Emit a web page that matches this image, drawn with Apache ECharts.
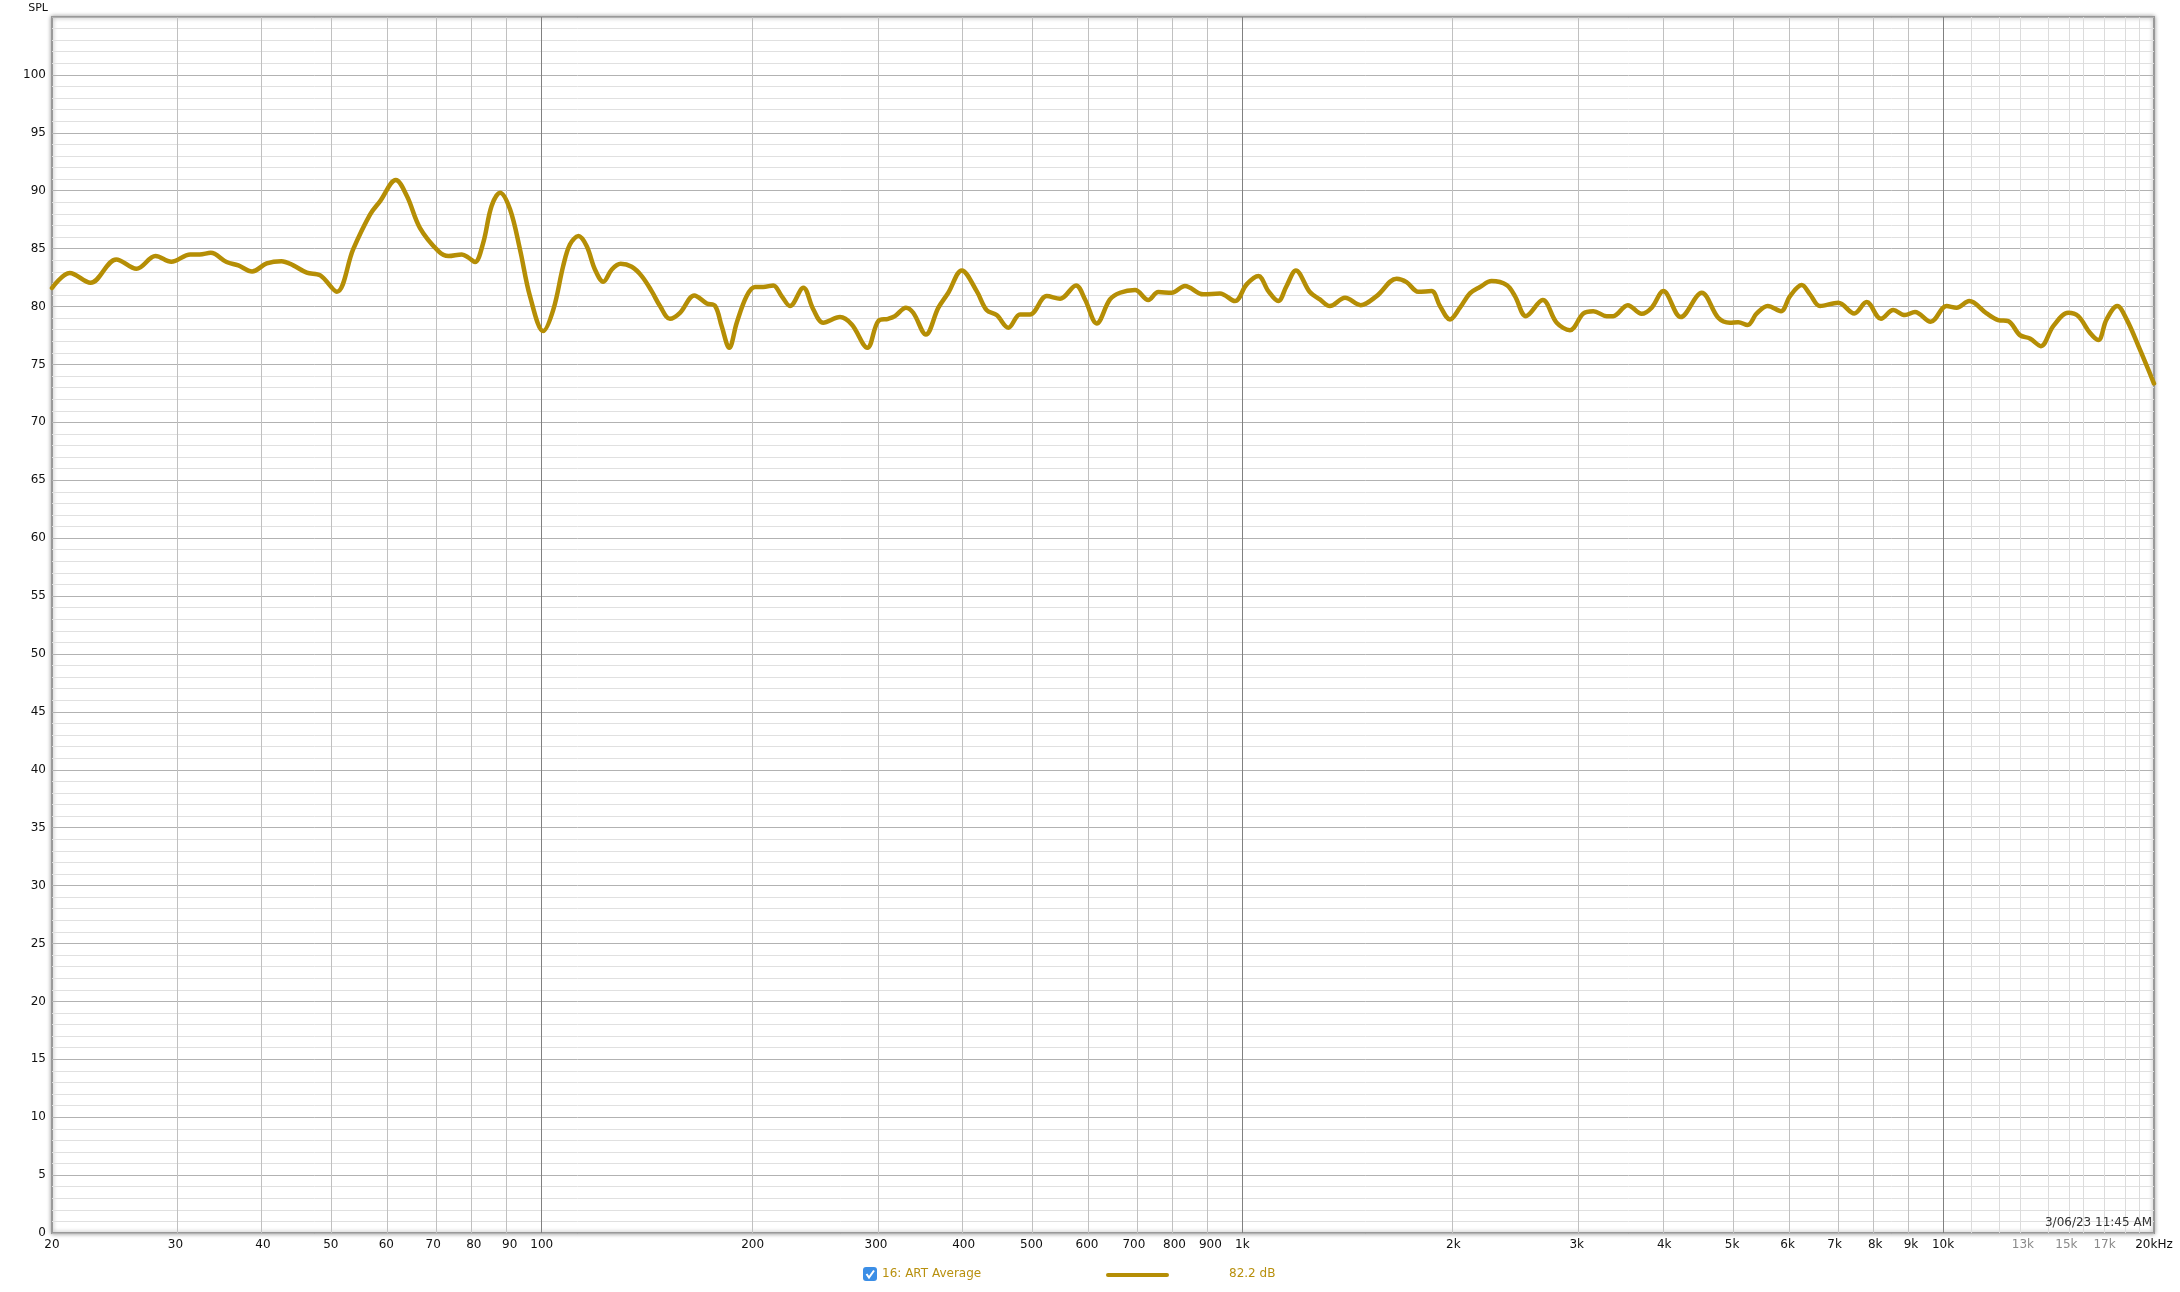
<!DOCTYPE html>
<html><head><meta charset="utf-8">
<script src="https://cdn.jsdelivr.net/npm/echarts@6/dist/echarts.min.js"></script>
<style>html,body{margin:0;padding:0;background:#fff}#c{width:2180px;height:1292px}</style>
</head><body><div id="c"></div>
<script>
// Frequency (Hz) of each sampled point of the response curve
const freqs = [20, 21.2, 22.7, 24.7, 26.4, 28.1, 29.6, 31.5, 32.5, 33.7, 35.5, 36.9, 38.6, 40.5, 42.5, 44.2, 46.2, 48.3, 51.0, 53.8,
  56.9, 58.8, 61.9, 64.2, 67.0, 71.2, 73.6, 76.9, 78.7, 80.3, 82.5, 84.8, 87.2, 90.1, 93.1, 96.2, 100.5, 103.9, 107.3, 109.7,
  112.8, 115.9, 119.1, 122.4, 125.9, 129.6, 134.4, 138.9, 143.5, 147.5, 152.4, 157.5, 165.1, 172.0, 176.8, 180.6, 185.2, 189.8, 196.1, 201.5,
  207.0, 214.0, 220.0, 226.1, 236.2, 244.1, 252.2, 266.5, 277.0, 291.6, 302.2, 312.2, 319.2, 331.0, 339.0, 353.4, 368.2, 380.4, 397.6, 417.6,
  431.5, 445.9, 463.4, 481.5, 497.6, 525.7, 549.2, 578.8, 596.2, 619.5, 647.1, 668.8, 702.6, 734.0, 758.6, 792.6, 828.0, 879.2, 928.8, 975.8,
  1014, 1054, 1089, 1125, 1156, 1192, 1248, 1290, 1333, 1401, 1475, 1554, 1660, 1715, 1782, 1862, 1914, 1978, 2044, 2112,
  2183, 2268, 2384, 2449, 2539, 2683, 2809, 2934, 3066, 3168, 3310, 3382, 3548, 3714, 3838, 3988, 4222, 4524, 4776, 4962,
  5100, 5260, 5420, 5620, 5870, 6048, 6284, 6458, 6674, 7086, 7468, 7778, 8154, 8490, 8822, 9118, 9600, 10116, 10454, 10900,
  11538, 11986, 12388, 12872, 13302, 13792, 14362, 15088, 15592, 16202, 16652, 17114, 17724, 18280, 19092, 20000];
// SPL (dB) at each frequency above
const spl = [81.6, 82.9, 82.05, 84.07, 83.26, 84.36, 83.87, 84.5, 84.5, 84.64, 83.84, 83.55, 83.03, 83.72, 83.92, 83.55, 82.92, 82.69, 81.28, 84.93,
  87.96, 89.1, 90.92, 89.54, 86.8, 84.79, 84.36, 84.5, 84.2, 83.84, 85.5, 88.68, 89.83, 88.39, 84.93, 80.9, 77.88, 79.75, 83.5, 85.36,
  86.08, 85.22, 83.2, 82.14, 83.2, 83.69, 83.43, 82.63, 81.33, 80.04, 78.94, 79.46, 80.96, 80.27, 80.04, 78.31, 76.44, 78.6, 80.9, 81.68,
  81.68, 81.82, 80.9, 80.04, 81.62, 79.75, 78.6, 79.09, 78.45, 76.44, 78.74, 78.94, 79.17, 79.9, 79.46, 77.59, 79.9, 81.19, 83.12, 81.33,
  79.69, 79.26, 78.17, 79.32, 79.32, 80.9, 80.67, 81.82, 80.61, 78.54, 80.61, 81.19, 81.42, 80.56, 81.25, 81.19, 81.77, 81.05, 81.13, 80.47,
  81.91, 82.63, 81.33, 80.47, 81.77, 83.12, 81.25, 80.61, 80.04, 80.76, 80.12, 80.9, 82.4, 82.11, 81.28, 81.33, 80.04, 78.89, 79.9, 81.13,
  81.68, 82.2, 81.85, 80.9, 79.17, 80.56, 78.6, 77.96, 79.4, 79.6, 79.17, 79.17, 80.12, 79.37, 79.9, 81.33, 79.09, 81.19, 79.03, 78.6,
  78.65, 78.4, 79.4, 80.04, 79.6, 80.9, 81.85, 81.05, 80.04, 80.33, 79.4, 80.38, 78.94, 79.69, 79.26, 79.52, 78.68, 80.04, 79.9, 80.47,
  79.4, 78.83, 78.74, 77.53, 77.24, 76.58, 78.31, 79.46, 79.17, 77.73, 77.1, 78.89, 80.04, 78.89, 76.29, 73.35];

// Frequency axis tick labels
const tickFreqs = [20, 30, 40, 50, 60, 70, 80, 90, 100, 200, 300, 400, 500, 600, 700, 800, 900,
  1000, 2000, 3000, 4000, 5000, 6000, 7000, 8000, 9000, 10000, 13000, 15000, 17000, 20000];
const tickLabels = ['20', '30', '40', '50', '60', '70', '80', '90', '100', '200', '300', '400', '500', '600', '700', '800', '900',
  '1k', '2k', '3k', '4k', '5k', '6k', '7k', '8k', '9k', '10k', '13k', '15k', '17k', '20kHz'];
const dimTickLabels = ['13k', '15k', '17k'];
// Vertical grid lines
const gridFreqs = [30, 40, 50, 60, 70, 80, 90, 200, 300, 400, 500, 600, 700, 800, 900,
  2000, 3000, 4000, 5000, 6000, 7000, 8000, 9000];
const decadeFreqs = [100, 1000, 10000];
const fineFreqs = [11000, 12000, 13000, 14000, 15000, 16000, 17000, 18000, 19000];

const seriesName = '16: ART Average';
const legendValue = '82.2 dB';
const dateText = '3/06/23 11:45 AM';

const L = Math.log10;
const tickVals = tickFreqs.map(L);
const FONT = '"DejaVu Sans", Verdana, sans-serif';
const GOLD = '#b58e05';

const chart = echarts.init(document.getElementById('c'), null, {renderer: 'canvas'});

const vLines = [].concat(
  fineFreqs.map(f => ({xAxis: L(f), lineStyle: {color: '#dcdcdc', width: 1, type: 'solid'}})),
  gridFreqs.map(f => ({xAxis: L(f), lineStyle: {color: '#c0c0c0', width: 1, type: 'solid'}})),
  decadeFreqs.map(f => ({xAxis: L(f), lineStyle: {color: '#808080', width: 1, type: 'solid'}}))
);

const option = {
  animation: false,
  backgroundColor: '#fff',
  grid: {
    left: 52, top: 17, right: 26, bottom: 59,
    show: true, backgroundColor: '#fff',
    borderColor: '#999', borderWidth: 2,
    shadowColor: 'rgba(0,0,0,0.35)', shadowBlur: 4
  },
  xAxis: {
    type: 'value', min: L(20), max: L(20000),
    axisLine: {show: false}, axisTick: {show: false}, splitLine: {show: false},
    axisLabel: {
      customValues: tickVals,
      margin: 6,
      fontFamily: FONT, fontSize: 12, color: '#111',
      formatter: function (v) {
        const i = tickVals.findIndex(t => Math.abs(t - v) < 1e-6);
        if (i < 0) return '';
        const s = tickLabels[i];
        return dimTickLabels.indexOf(s) >= 0 ? '{d|' + s + '}' : s;
      },
      rich: {d: {color: '#8a8a8a', fontFamily: FONT, fontSize: 12}}
    }
  },
  yAxis: {
    type: 'value', min: 0, max: 105, interval: 5,
    name: 'SPL', nameLocation: 'end', nameGap: 3,
    nameTextStyle: {fontFamily: FONT, fontSize: 11, color: '#111', align: 'right', padding: [0, 4, 0, 0]},
    axisLine: {show: false}, axisTick: {show: false},
    axisLabel: {
      margin: 6, fontFamily: FONT, fontSize: 12, color: '#111',
      formatter: v => (v > 100 ? '' : String(v))
    },
    splitLine: {lineStyle: {color: '#b2b2b2', width: 1}},
    minorTick: {show: false, splitNumber: 5},
    minorSplitLine: {show: true, lineStyle: {color: '#e0e0e0', width: 1}}
  },
  series: [
    {
      type: 'line', name: 'grid', data: [], silent: true, z: 1,
      markLine: {silent: true, symbol: 'none', animation: false, label: {show: false}, data: vLines}
    },
    {
      type: 'line', name: seriesName, z: 5,
      data: freqs.map((f, i) => [L(f), spl[i]]),
      smooth: 0.35, showSymbol: false, symbol: 'none',
      lineStyle: {color: GOLD, width: 4.5, cap: 'round', join: 'round'},
      itemStyle: {color: GOLD}
    }
  ],
  graphic: [
    {type: 'text', right: 28, bottom: 63, z: 10,
      style: {text: dateText, font: '12px ' + FONT, fill: '#333'}},
    {type: 'group', left: 863, top: 1267, z: 10, children: [
      {type: 'rect', shape: {x: 0, y: 0, width: 14, height: 14, r: 3}, style: {fill: '#3b8ee6'}},
      {type: 'polyline', shape: {points: [[3.5, 7], [6, 10.5], [11, 3.5]]}, style: {stroke: '#fff', lineWidth: 2, fill: null}},
      {type: 'text', x: 19, y: 7, style: {text: seriesName, font: '12px ' + FONT, fill: '#b8900e', verticalAlign: 'middle'}},
      {type: 'line', shape: {x1: 245, y1: 8, x2: 304, y2: 8}, style: {stroke: GOLD, lineWidth: 4, lineCap: 'round'}},
      {type: 'text', x: 366, y: 7, style: {text: legendValue, font: '12px ' + FONT, fill: '#b8900e', verticalAlign: 'middle'}}
    ]}
  ]
};
chart.setOption(option);
</script>
</body></html>
